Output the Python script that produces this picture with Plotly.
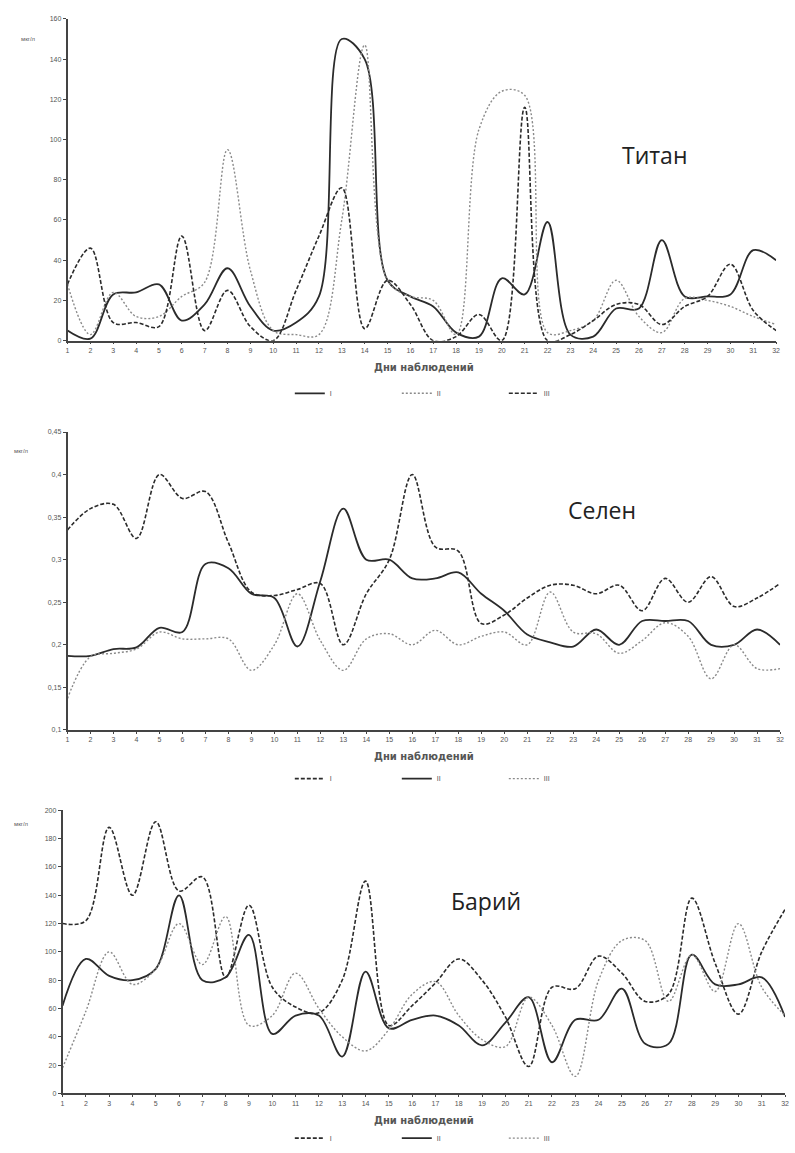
import plotly.graph_objects as go

# Observation days
days = list(range(1, 33))

# Titanium, µg/l
ti_1 = [5, 1, 23, 24, 28, 10, 18, 36, 17, 5, 9, 22, 150, 140, 30, 22, 17, 4, 2, 31, 23, 59, 3, 2, 16, 16, 50, 22, 22, 23, 45, 40]
ti_2 = [28, 3, 24, 12, 12, 22, 29, 95, 35, 5, 3, 3, 60, 147, 30, 22, 20, 3, 105, 124, 122, 4, 5, 10, 30, 12, 4, 21, 20, 17, 12, 8]
ti_3 = [28, 46, 9, 9, 7, 52, 5, 25, 7, 0, 25, 52, 76, 6, 30, 18, 0, 2, 13, 0, 116, 0, 3, 10, 18, 18, 8, 17, 22, 38, 15, 5]

# Selenium, µg/l
se_1 = [0.335, 0.36, 0.365, 0.325, 0.40, 0.372, 0.38, 0.32, 0.262, 0.258, 0.265, 0.272, 0.20, 0.26, 0.30, 0.40, 0.315, 0.31, 0.225, 0.235, 0.255, 0.27, 0.27, 0.26, 0.27, 0.24, 0.278, 0.25, 0.28, 0.245, 0.255, 0.272]
se_2 = [0.187, 0.187, 0.195, 0.197, 0.22, 0.215, 0.295, 0.29, 0.26, 0.255, 0.198, 0.275, 0.36, 0.30, 0.30, 0.278, 0.278, 0.285, 0.26, 0.24, 0.212, 0.203, 0.198, 0.218, 0.2, 0.228, 0.228, 0.228, 0.2, 0.2, 0.218, 0.2]
se_3 = [0.137, 0.186, 0.19, 0.195, 0.215, 0.207, 0.207, 0.207, 0.17, 0.2, 0.26, 0.205, 0.17, 0.207, 0.213, 0.2, 0.217, 0.2, 0.21, 0.215, 0.2, 0.262, 0.215, 0.213, 0.19, 0.205, 0.226, 0.21, 0.16, 0.2, 0.172, 0.172]

# Barium, µg/l
ba_1 = [120, 122, 188, 140, 192, 143, 153, 82, 133, 75, 61, 57, 80, 150, 48, 62, 78, 95, 80, 54, 19, 75, 74, 97, 85, 65, 70, 138, 92, 56, 100, 130]
ba_2 = [62, 95, 83, 80, 88, 140, 80, 82, 112, 42, 55, 55, 26, 86, 46, 52, 55, 48, 34, 50, 68, 22, 52, 52, 74, 35, 35, 98, 77, 77, 82, 54]
ba_3 = [18, 58, 100, 77, 88, 120, 91, 125, 48, 55, 85, 60, 40, 30, 45, 70, 79, 55, 38, 33, 68, 48, 12, 80, 108, 108, 65, 98, 72, 120, 75, 55]

ti_ticks = [0, 20, 40, 60, 80, 100, 120, 140, 160]
se_ticks = [0.1, 0.15, 0.2, 0.25, 0.3, 0.35, 0.4, 0.45]
se_ticktext = ["0,1", "0,15", "0,2", "0,25", "0,3", "0,35", "0,4", "0,45"]
ba_ticks = [0, 20, 40, 60, 80, 100, 120, 140, 160, 180, 200]

series_names = ["I", "II", "III"]
x_title = "Дни наблюдений"
unit = "мкг/л"

W, H = 795, 1153

def px_x(p):
    return p / W

def px_y(p):
    return 1 - p / H

DARK = "#2b2b2b"
LIGHT = "#8a8a8a"
SOLID = dict(color=DARK, width=1.8, dash="solid")
DOT = dict(color=LIGHT, width=1.4, dash="2px,2px")
DASH = dict(color=DARK, width=1.6, dash="4px,2px")

panels = [
    dict(name="Титан", data=[ti_1, ti_2, ti_3], styles=[SOLID, DOT, DASH],
         x0=66, x1=780, ytop=15, ybot=339, rng=[0, 160], tv=ti_ticks, tt=[str(v) for v in ti_ticks],
         title_xy=(657, 152), unit_xy=(27, 35), legend_y=392),
    dict(name="Селен", data=[se_1, se_2, se_3], styles=[DASH, SOLID, DOT],
         x0=66, x1=784, ytop=431, ybot=731, rng=[0.1, 0.45], tv=se_ticks, tt=se_ticktext,
         title_xy=(605, 510), unit_xy=(20, 450), legend_y=780),
    dict(name="Барий", data=[ba_1, ba_2, ba_3], styles=[DASH, SOLID, DOT],
         x0=61, x1=789, ytop=812, ybot=1097, rng=[0, 200], tv=ba_ticks, tt=[str(v) for v in ba_ticks],
         title_xy=(488, 903), unit_xy=(20, 826), legend_y=1142),
]

fig = go.Figure()
annotations = []
layout = {}

for i, p in enumerate(panels, start=1):
    xa = "x" if i == 1 else f"x{i}"
    ya = "y" if i == 1 else f"y{i}"
    lg = "legend" if i == 1 else f"legend{i}"
    for name, vals, st in zip(series_names, p["data"], p["styles"]):
        fig.add_trace(go.Scatter(
            x=days, y=vals, mode="lines", name=name,
            line=dict(shape="spline", smoothing=1.0, **st),
            xaxis=xa, yaxis=ya, legend=lg, showlegend=True,
        ))
    xkey = "xaxis" if i == 1 else f"xaxis{i}"
    ykey = "yaxis" if i == 1 else f"yaxis{i}"
    layout[xkey] = dict(
        domain=[px_x(p["x0"]), px_x(p["x1"])], anchor=ya, range=[1, 32],
        tickvals=days, ticktext=[str(d) for d in days], showgrid=False, zeroline=False,
        showline=True, linecolor="#444", linewidth=1.5, ticks="outside", ticklen=2,
        tickcolor="#444", tickfont=dict(size=7, color="#555", family="Arial"),
    )
    layout[ykey] = dict(
        domain=[px_y(p["ybot"]), px_y(p["ytop"])], anchor=xa, range=p["rng"],
        tickvals=p["tv"], ticktext=p["tt"], showgrid=False, zeroline=False,
        showline=True, linecolor="#444", linewidth=1.5, ticks="outside", ticklen=3,
        tickcolor="#444", tickfont=dict(size=7, color="#555", family="Arial"),
    )
    layout[lg] = dict(
        orientation="h", x=px_x(290), xanchor="left", y=px_y(p["legend_y"]), yanchor="middle",
        font=dict(size=7, color="#555", family="Arial"), bgcolor="rgba(0,0,0,0)",
        entrywidth=62, entrywidthmode="pixels", itemwidth=30,
    )
    tx, ty = p["title_xy"]
    annotations.append(dict(
        text=p["name"], x=px_x(tx), y=px_y(ty), xref="paper", yref="paper",
        showarrow=False, xanchor="center", yanchor="middle",
        font=dict(size=23, color="#222", family="Open Sans"),
    ))
    ux, uy = p["unit_xy"]
    annotations.append(dict(
        text=unit, x=px_x(ux), y=px_y(uy), xref="paper", yref="paper",
        showarrow=False, xanchor="center", yanchor="middle",
        font=dict(size=6, color="#555", family="Arial"),
    ))
    annotations.append(dict(
        text="<b>" + x_title + "</b>", x=px_x(425), y=px_y(p["ybot"] + 27), xref="paper", yref="paper",
        showarrow=False, xanchor="center", yanchor="middle",
        font=dict(size=10, color="#555", family="DejaVu Sans"),
    ))

fig.update_layout(
    width=W, height=H, margin=dict(l=0, r=0, t=0, b=0),
    paper_bgcolor="white", plot_bgcolor="white",
    annotations=annotations, **layout,
)

fig.write_html("out.html")
